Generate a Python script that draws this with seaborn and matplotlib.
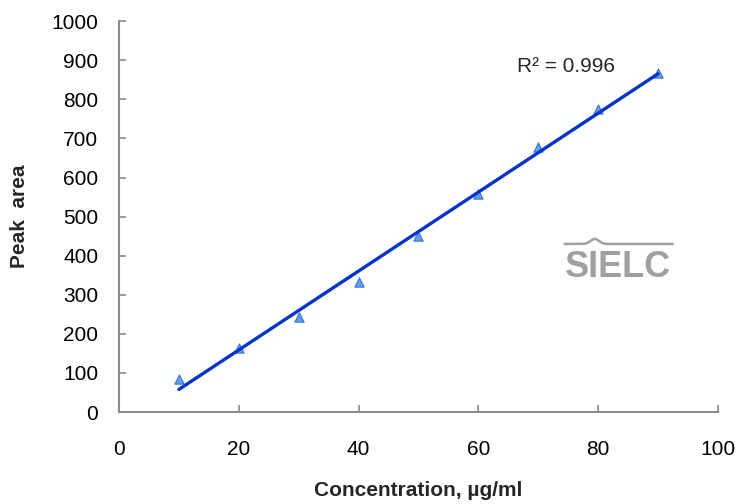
import matplotlib
matplotlib.use("Agg")
import matplotlib.pyplot as plt
import numpy as np
import pandas as pd
import seaborn as sns
from matplotlib.lines import Line2D

concentration = [10, 20, 30, 40, 50, 60, 70, 80, 90]
peak_area = [85, 165, 243, 333, 450, 557, 678, 775, 868]
r2_label = "R² = 0.996"

sns.set_style("white")
plt.rcParams["font.family"] = ["Liberation Sans", "DejaVu Sans"]

table = pd.DataFrame({"conc": concentration, "area": peak_area})

fig = plt.figure(figsize=(7.37, 5.04), dpi=100)
ax = fig.add_axes([0.1615, 0.1825, 0.8125, 0.7755])

sns.regplot(
    data=table, x="conc", y="area", ci=None, truncate=True, ax=ax,
    marker="^",
    scatter_kws={"s": 45, "color": "#3f86e8", "edgecolor": "#1f5fd0", "linewidths": 0.8, "zorder": 2},
    line_kws={"color": "#0634c8", "linewidth": 2.4, "zorder": 3},
)

ax.set_xlim(0, 100)
ax.set_ylim(0, 1000)
ax.set_xticks(np.arange(0, 101, 20))
ax.set_yticks(np.arange(0, 1001, 100))
ax.tick_params(bottom=True, left=True, direction="in", length=5, width=1.2,
               color="#8c8c8c", labelsize=15, labelcolor="black")
ax.tick_params(axis="x", pad=20)
ax.tick_params(axis="y", pad=15)
for side in ["top", "right"]:
    ax.spines[side].set_visible(False)
for side in ["left", "bottom"]:
    ax.spines[side].set_color("#8c8c8c")
    ax.spines[side].set_linewidth(1.5)

ax.set_xlabel("Concentration, µg/ml", fontsize=15, fontweight="bold", labelpad=16)
ax.set_ylabel("Peak  area", fontsize=15, fontweight="bold", labelpad=16)

ax.text(0.665, 0.885, r2_label, transform=ax.transAxes, fontsize=15, ha="left", va="center")

# SIELC watermark
fig.text(0.8385, 0.470, "SIELC", fontsize=26, color="#a0a0a0", ha="center", va="center",
         fontweight="bold", family=["Liberation Sans", "DejaVu Sans"])
xs = np.linspace(0.766, 0.913, 200)
ys = 0.516 + 0.010 * np.exp(-((xs - 0.807) / 0.008) ** 2)
fig.add_artist(Line2D(xs, ys, transform=fig.transFigure, color="#a0a0a0", linewidth=1.8))

fig.savefig("out.png", dpi=100)
